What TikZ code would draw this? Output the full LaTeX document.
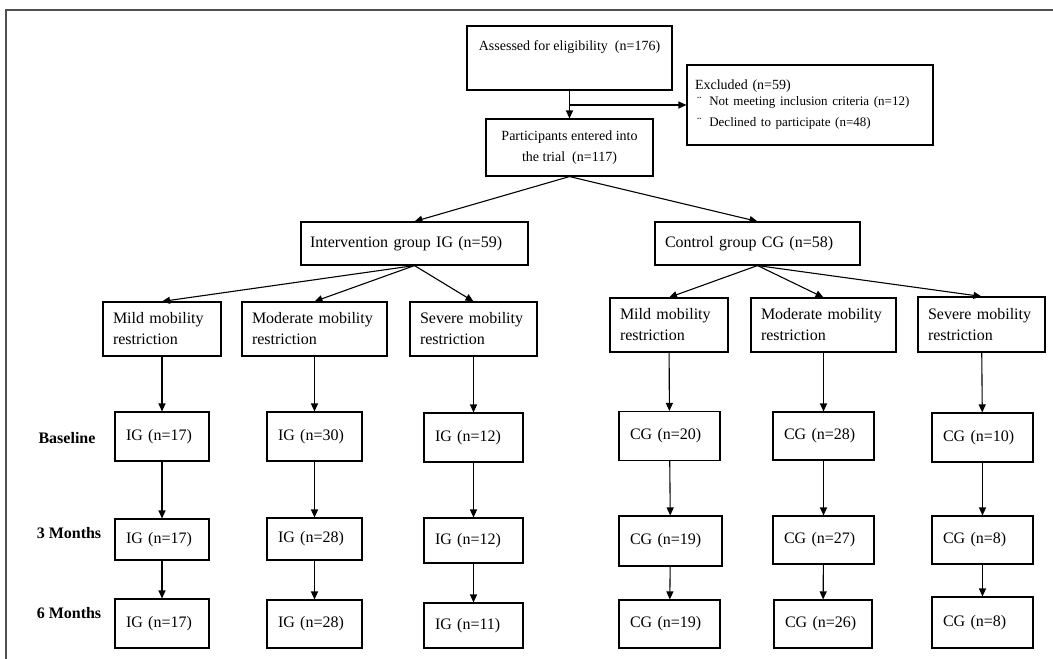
\documentclass[tikz,border=0pt]{standalone}
\usepackage{fontspec}
\setmainfont{Liberation Serif}
\usetikzlibrary{arrows.meta}

\tikzset{
  box/.style={draw, line width=1.1pt, inner ysep=0pt, align=left},
  topbox/.style={box, font=\fontsize{14}{21}\selectfont},
  grpbox/.style={box, inner xsep=10pt, minimum height=43pt, font=\fontsize{16}{21}\selectfont},
  subbox/.style={box, inner xsep=10pt, minimum height=54pt, font=\fontsize{16}{21}\selectfont},
  tbox/.style={box, inner xsep=11pt, text width=#1, font=\fontsize{16}{21}\selectfont},
  tbox/.default=73pt,
  lbl/.style={font=\fontsize{16}{20}\selectfont\bfseries},
  arr/.style={line width=1.1pt, -{Triangle[length=8pt,width=7pt]}},
}

\begin{document}
\begin{tikzpicture}[x=1pt,y=1pt,yscale=-1]
  \useasboundingbox (0,0) rectangle (1053,659);
  % frame
  \draw [line width=1.8pt, color={rgb,255:red,80;green,80;blue,80}] (6,659) -- (6,10) -- (1053,10);

  % top of the flow
  \node [topbox, align=center, minimum width=205pt, text height=18pt, text depth=34pt, inner ysep=6pt] (ass) at (569.5,58) {Assessed for eligibility\ \ (n=176)};
  \node [topbox, inner xsep=8pt, text width=230pt, minimum height=80pt] (exc) at (810,105)
        {Excluded (n=59)\\[1pt]\fontsize{13}{15}\selectfont\hspace*{2pt}¨\hspace*{8pt}Not meeting inclusion criteria (n=12)\\
         \hspace*{2pt}¨\hspace*{8pt}Declined to participate (n=48)};
  \node [topbox, align=center, minimum width=167pt, minimum height=57pt] (par) at (569.5,147.5) {Participants entered into\\the trial\ \ (n=117)};
  \coordinate (br) at (569.5,105);

  % groups
  \node [grpbox, inner xsep=9pt, text width=209pt] (ig) at (414.5,243.5) {Intervention group IG (n=59)};
  \node [grpbox, text width=185pt] (cg) at (757.5,243.5) {Control group CG (n=58)};

  % mobility restriction
  \node [subbox, text width=98pt] (igm) at (162,329) {Mild mobility\\restriction};
  \node [subbox, text width=125pt] (igo) at (314.5,329) {Moderate mobility\\restriction};
  \node [subbox, text width=107pt] (igs) at (473.5,329) {Severe mobility\\restriction};
  \node [subbox, text width=98pt] (cgm) at (669,325) {Mild mobility\\restriction};
  \node [subbox, text width=125pt] (cgo) at (823.5,325) {Moderate mobility\\restriction};
  \node [subbox, text width=107pt, minimum height=55pt] (cgs) at (981.5,324.5) {Severe mobility\\restriction};

  % time points
  \node [lbl] (lbase) at (67,438) {Baseline};
  \node [lbl] (lthree) at (69,533) {3 Months};
  \node [lbl] (lsix) at (69,613) {6 Months};

  \node [tbox=72pt, minimum height=49pt] (ig1) at (162,436.5) {IG (n=17)};
  \node [tbox, minimum height=49pt] (ig2) at (314.5,436.5) {IG (n=30)};
  \node [tbox=77pt, minimum height=49pt] (ig3) at (473.5,437.5) {IG (n=12)};
  \node [tbox=79pt, minimum height=49pt] (cg1) at (669.5,436) {CG (n=20)};
  \node [tbox=79pt, minimum height=48pt] (cg2) at (823.5,436) {CG (n=28)};
  \node [tbox=79pt, minimum height=49pt] (cg3) at (982.5,437.5) {CG (n=10)};

  \node [tbox=72pt, minimum height=41pt] (ig4) at (162,539.5) {IG (n=17)};
  \node [tbox, minimum height=42pt] (ig5) at (314.5,539) {IG (n=28)};
  \node [tbox=77pt, minimum height=45pt] (ig6) at (473.5,540.5) {IG (n=12)};
  \node [tbox=81pt, minimum height=50pt] (cg4) at (670.5,541) {CG (n=19)};
  \node [tbox=79pt, minimum height=48pt] (cg5) at (823.5,540) {CG (n=27)};
  \node [tbox=79pt, minimum height=48pt] (cg6) at (982.5,540) {CG (n=8)};

  \node [tbox=72pt, minimum height=49pt] (ig7) at (162,623.5) {IG (n=17)};
  \node [tbox, minimum height=48pt] (ig8) at (314.5,624) {IG (n=28)};
  \node [tbox=77pt, minimum height=45pt] (ig9) at (473.5,625.5) {IG (n=11)};
  \node [tbox=79pt, minimum height=48pt] (cg7) at (669.5,624) {CG (n=19)};
  \node [tbox=76pt, minimum height=48pt] (cg8) at (823,624) {CG (n=26)};
  \node [tbox=79pt, minimum height=51pt] (cg9) at (982.5,622.5) {CG (n=8)};

  % connectors
  \draw [arr] (ass) -- (par);
  \draw [arr] (br) -- (exc.west);
  \draw [arr] (par.south) -- (ig.north);
  \draw [arr] (par.south) -- (cg.north);
  \draw [arr] (ig.south) -- (igm.north);
  \draw [arr] (ig.south) -- (igo.north);
  \draw [arr] (ig.south) -- (igs.north);
  \draw [arr] (cg.south) -- (cgm.north);
  \draw [arr] (cg.south) -- (cgo.north);
  \draw [arr] (cg.south) -- (cgs.north);

  \draw [arr] (igm) -- (ig1);
  \draw [arr] (igo) -- (ig2);
  \draw [arr] (igs) -- (ig3);
  \draw [arr] (cgm) -- (cg1);
  \draw [arr] (cgo) -- (cg2);
  \draw [arr] (cgs) -- (cg3);
  \draw [arr] (ig1) -- (ig4);
  \draw [arr] (ig2) -- (ig5);
  \draw [arr] (ig3) -- (ig6);
  \draw [arr] (cg1) -- (cg4);
  \draw [arr] (cg2) -- (cg5);
  \draw [arr] (cg3) -- (cg6);
  \draw [arr] (ig4) -- (ig7);
  \draw [arr] (ig5) -- (ig8);
  \draw [arr] (ig6) -- (ig9);
  \draw [arr] (cg4) -- (cg7);
  \draw [arr] (cg5) -- (cg8);
  \draw [arr] (cg6) -- (cg9);
\end{tikzpicture}
\end{document}
